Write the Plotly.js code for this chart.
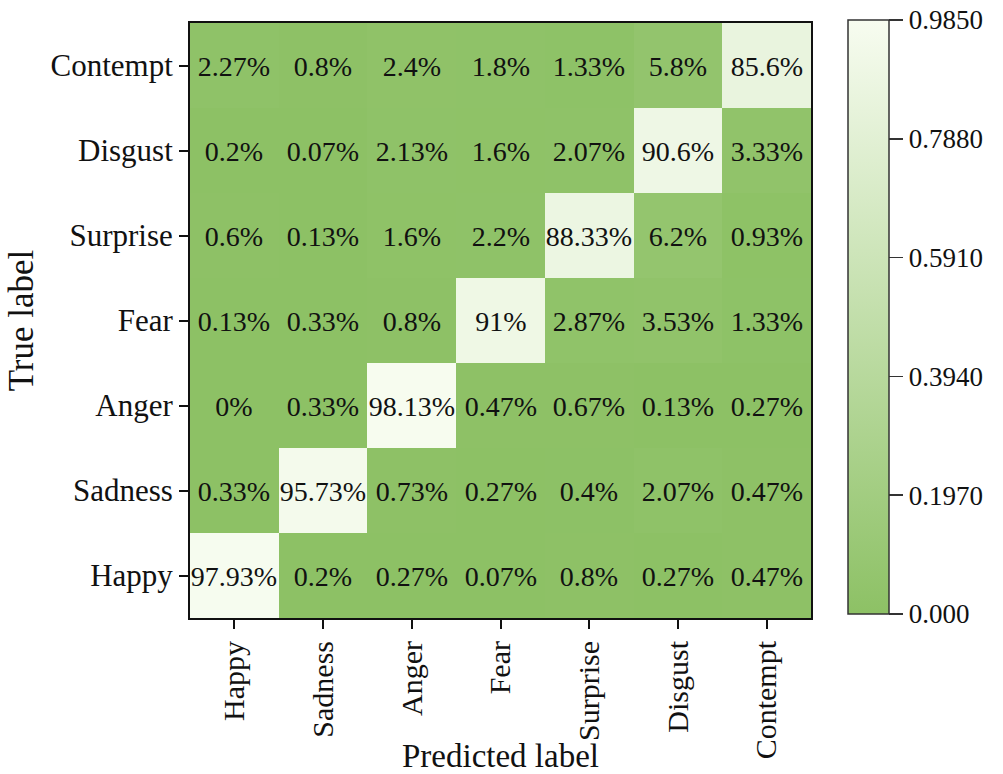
<!DOCTYPE html>
<html>
<head>
<meta charset="utf-8">
<script src="https://cdn.plot.ly/plotly-3.0.1.min.js"></script>
<style>html,body{margin:0;padding:0;background:#fff;}</style>
</head>
<body>
<div id="chart" style="width:1003px;height:774px;"></div>
<script>
var predictedLabels = ["Happy", "Sadness", "Anger", "Fear", "Surprise", "Disgust", "Contempt"];
var trueLabels = ["Happy", "Sadness", "Anger", "Fear", "Surprise", "Disgust", "Contempt"];
// percentages, one row per true label (bottom to top)
var rowHappy    = [97.93, 0.2, 0.27, 0.07, 0.8, 0.27, 0.47];
var rowSadness  = [0.33, 95.73, 0.73, 0.27, 0.4, 2.07, 0.47];
var rowAnger    = [0, 0.33, 98.13, 0.47, 0.67, 0.13, 0.27];
var rowFear     = [0.13, 0.33, 0.8, 91, 2.87, 3.53, 1.33];
var rowSurprise = [0.6, 0.13, 1.6, 2.2, 88.33, 6.2, 0.93];
var rowDisgust  = [0.2, 0.07, 2.13, 1.6, 2.07, 90.6, 3.33];
var rowContempt = [2.27, 0.8, 2.4, 1.8, 1.33, 5.8, 85.6];
var colorbarTicks = [0, 0.197, 0.394, 0.591, 0.788, 0.985];
var colorbarTickText = ["0.000", "0.1970", "0.3940", "0.5910", "0.7880", "0.9850"];

var rows = [rowHappy, rowSadness, rowAnger, rowFear, rowSurprise, rowDisgust, rowContempt];
var z = rows.map(function(r){ return r.map(function(v){ return v/100; }); });
var text = rows.map(function(r){ return r.map(function(v){ return String(v) + '%'; }); });

var serif = "Liberation Serif, Times New Roman, serif";

var trace = {
  type: 'heatmap',
  x: predictedLabels,
  y: trueLabels,
  z: z,
  text: text,
  texttemplate: '%{text}',
  textfont: {family: serif, size: 28, color: '#111'},
  zmin: 0, zmax: 0.985,
  colorscale: [[0, 'rgb(141,193,101)'], [1, 'rgb(247,252,240)']],
  xgap: 0, ygap: 0,
  hoverinfo: 'skip',
  colorbar: {
    x: 1.0596, xanchor: 'left', xpad: 0,
    y: 1.005, yanchor: 'top', ypad: 0,
    len: 594, lenmode: 'pixels',
    thickness: 41, thicknessmode: 'pixels',
    outlinewidth: 1.5, outlinecolor: '#333',
    tickmode: 'array', tickvals: colorbarTicks, ticktext: colorbarTickText,
    ticks: 'outside', ticklen: 14, tickwidth: 1.5, tickcolor: '#333',
    tickfont: {family: serif, size: 27, color: '#111'}
  }
};

var layout = {
  width: 1003, height: 774,
  margin: {l: 190, r: 192, t: 23, b: 156},
  paper_bgcolor: '#fff', plot_bgcolor: '#fff',
  font: {family: serif, color: '#111'},
  xaxis: {
    type: 'category', categoryorder: 'array', categoryarray: predictedLabels,
    showline: true, mirror: true, linecolor: '#111', linewidth: 2,
    ticks: 'outside', ticklen: 9, tickwidth: 2, tickcolor: '#111',
    tickangle: -90, tickfont: {family: serif, size: 30, color: '#111'},
    showgrid: false, zeroline: false,
    title: {text: 'Predicted label', font: {family: serif, size: 33, color: '#111'}, standoff: 2}
  },
  yaxis: {
    type: 'category', categoryorder: 'array', categoryarray: trueLabels,
    showline: true, mirror: true, linecolor: '#111', linewidth: 2,
    ticks: 'outside', ticklen: 9, tickwidth: 2, tickcolor: '#111',
    tickfont: {family: serif, size: 31, color: '#111'},
    showgrid: false, zeroline: false,
    title: {text: 'True label', font: {family: serif, size: 35, color: '#111'}, standoff: 6}
  }
};

Plotly.newPlot('chart', [trace], layout, {displayModeBar: false, staticPlot: true});
</script>
</body>
</html>
